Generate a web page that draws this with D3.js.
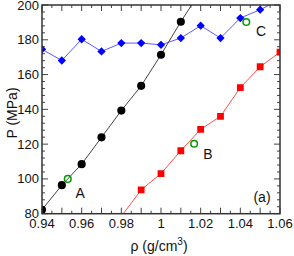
<!DOCTYPE html>
<html><head><meta charset="utf-8">
<script src="https://cdn.jsdelivr.net/npm/d3@7"></script>
<style>body{margin:0;background:#fff}svg{display:block}text{font-family:"Liberation Sans",Arial,sans-serif;fill:#111}</style>
</head><body><div id="c"></div>
<script>
// density grid (g/cm3)
const blackRho = [0.94,0.95,0.96,0.97,0.98,0.99,1.00,1.01,1.02];
const blackP   = [82.3,96.4,108.5,123.9,139.3,153.5,171.4,190.4,208];
const blueRho  = [0.94,0.95,0.96,0.97,0.98,0.99,1.00,1.01,1.02,1.03,1.04,1.05,1.06];
const blueP    = [174.5,168.1,180.3,173.3,178.1,178.1,177.1,181.0,188.1,181.0,192.5,197.3,203];
const redRho   = [0.98,0.99,1.00,1.01,1.02,1.03,1.04,1.05,1.06];
const redP     = [78.5,93.7,103.1,116.2,128.5,136.0,152.5,164.5,172.9];
const greenRho = [0.953,1.0167,1.043];
const greenP   = [100,120.2,190.2];
const pointLabels = ["A","B","C"];
const labelRho = [0.9592,1.0236,1.0504];
const labelP   = [89.3,111.3,182];
const xTicks = [0.94,0.96,0.98,1.00,1.02,1.04,1.06];
const xTickLabels = ["0.94","0.96","0.98","1","1.02","1.04","1.06"];
const yTicks = [80,100,120,140,160,180,200];

const W=294,H=256, L=42,R=280,T=5,B=213.7;
const x=d3.scaleLinear().domain([0.94,1.06]).range([L,R]);
const y=d3.scaleLinear().domain([80,200]).range([B,T]);
const svg=d3.select("#c").append("svg").attr("width",W).attr("height",H);
svg.append("defs").append("clipPath").attr("id","clip").append("rect")
  .attr("x",L).attr("y",T).attr("width",R-L).attr("height",B-T);

// ticks (inside) on all sides
const ax=svg.append("g").attr("stroke","#444").attr("stroke-width",1);
const xMinor=d3.range(0.94,1.0601,0.005);
xMinor.forEach((v,i)=>{const len=(i%2===0)?6:3;
  ax.append("line").attr("x1",x(v)).attr("x2",x(v)).attr("y1",B).attr("y2",B-len);
  ax.append("line").attr("x1",x(v)).attr("x2",x(v)).attr("y1",T).attr("y2",T+len);});
const yMinor=d3.range(80,200.01,4);
yMinor.forEach((v,i)=>{const len=(i%5===0)?6:3;
  ax.append("line").attr("y1",y(v)).attr("y2",y(v)).attr("x1",L).attr("x2",L+len);
  ax.append("line").attr("y1",y(v)).attr("y2",y(v)).attr("x1",R).attr("x2",R-len);});

const plot=svg.append("g").attr("clip-path","url(#clip)");
const line=d3.line().x(d=>x(d[0])).y(d=>y(d[1]));
function series(rho,P,lineColor,markColor,shape,size){
  const pts=rho.map((r,i)=>[r,P[i]]);
  plot.append("path").attr("d",line(pts)).attr("fill","none").attr("stroke",lineColor).attr("stroke-width",1);
  const inside=pts.filter(p=>p[1]>=79&&p[1]<=201);
  plot.selectAll(null).data(inside).enter().append("path")
    .attr("d",d3.symbol().type(shape).size(size))
    .attr("transform",d=>`translate(${x(d[0])},${y(d[1])})`)
    .attr("fill",markColor);
}
series(blueRho,blueP,"#5a5aff","#0000ff",d3.symbolDiamond2,44);
series(blackRho,blackP,"#444","#000",d3.symbolCircle,52);
series(redRho,redP,"#ff5050","#ff0000",d3.symbolSquare,46);

// green open circles
plot.selectAll(null).data(greenRho.map((r,i)=>[r,greenP[i]])).enter().append("circle")
  .attr("cx",d=>x(d[0])).attr("cy",d=>y(d[1])).attr("r",3.3)
  .attr("fill","none").attr("stroke","#009900").attr("stroke-width",1.5);

// frame
svg.append("rect").attr("x",L).attr("y",T).attr("width",R-L).attr("height",B-T)
  .attr("fill","none").attr("stroke","#333").attr("stroke-width",1.5);

// tick labels
svg.selectAll(null).data(xTicks).enter().append("text")
  .attr("x",d=>x(d)).attr("y",B+14.5).attr("text-anchor","middle").attr("font-size",13)
  .text((d,i)=>xTickLabels[i]);
svg.selectAll(null).data(yTicks).enter().append("text")
  .attr("x",L-3).attr("y",d=>y(d)+4.5).attr("text-anchor","end").attr("font-size",13)
  .text(d=>d);

// point labels
svg.selectAll(null).data(pointLabels).enter().append("text")
  .attr("x",(d,i)=>x(labelRho[i])).attr("y",(d,i)=>y(labelP[i])).attr("text-anchor","middle")
  .attr("font-size",14).text(d=>d);
svg.append("text").attr("x",262).attr("y",201.5).attr("text-anchor","middle").attr("font-size",14).text("(a)");

// axis titles
const xt=svg.append("text").attr("x",159).attr("y",251).attr("text-anchor","middle").attr("font-size",14);
xt.append("tspan").text("ρ (g/cm");
xt.append("tspan").attr("dy",-6).attr("font-size",10).text("3");
xt.append("tspan").attr("dy",6).text(")");
svg.append("text").attr("transform","translate(17,113) rotate(-90)").attr("text-anchor","middle")
  .attr("font-size",14).text("P (MPa)");
</script></body></html>
